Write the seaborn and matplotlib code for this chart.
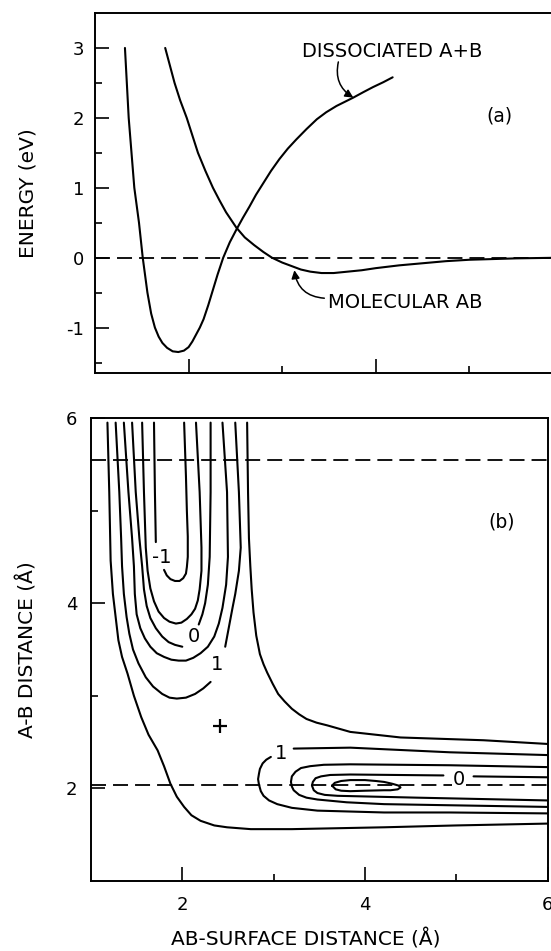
import matplotlib
matplotlib.use("Agg")
import matplotlib.pyplot as plt
import seaborn as sns

sns.set_theme(style="white")
plt.rcParams['font.family'] = ['DejaVu Sans']
plt.rcParams.update({"text.color": "black", "axes.labelcolor": "black",
                     "xtick.color": "black", "ytick.color": "black"})

# ---------------- Panel (a) data ----------------
dissoc_x = [1.32, 1.34, 1.36, 1.39, 1.42, 1.47, 1.51, 1.56, 1.60, 1.64, 1.68, 1.72,
            1.77, 1.83, 1.89, 1.95, 2.00, 2.04, 2.08, 2.12, 2.16, 2.21, 2.26, 2.31,
            2.37, 2.44, 2.51, 2.58, 2.65, 2.72, 2.80, 2.88, 2.97, 3.06, 3.15, 3.26,
            3.37, 3.47, 3.58, 3.67, 3.76, 3.87, 3.97, 4.08, 4.18]
dissoc_y = [3.0, 2.5, 2.0, 1.5, 1.0, 0.5, 0.0, -0.5, -0.8, -1.0, -1.13, -1.22,
            -1.29, -1.34, -1.35, -1.33, -1.28, -1.20, -1.10, -1.00, -0.88, -0.68, -0.46, -0.24,
            0.0, 0.22, 0.40, 0.57, 0.73, 0.90, 1.07, 1.24, 1.41, 1.56, 1.69, 1.84,
            1.98, 2.08, 2.17, 2.23, 2.29, 2.37, 2.44, 2.51, 2.58]
mol_x = [1.75, 1.80, 1.85, 1.91, 1.98, 2.04, 2.10, 2.18, 2.26, 2.33, 2.40, 2.51,
         2.60, 2.70, 2.80, 2.89, 3.00, 3.10, 3.20, 3.30, 3.42, 3.55, 3.70, 3.85,
         4.00, 4.25, 4.50, 4.75, 5.00, 5.50, 6.00]
mol_y = [3.0, 2.75, 2.5, 2.25, 2.0, 1.75, 1.5, 1.24, 1.0, 0.82, 0.65, 0.43,
         0.29, 0.18, 0.08, 0.0, -0.07, -0.12, -0.17, -0.20, -0.22, -0.22, -0.20, -0.18,
         -0.15, -0.11, -0.08, -0.05, -0.03, -0.01, 0.0]
energy_ref = 0.0

# ---------------- Panel (b) contour traces ----------------
c_m1_a_x = [1.69, 1.70, 1.71]
c_m1_a_y = [5.95, 5.20, 4.66]
c_m1_b_x = [1.80, 1.83, 1.87, 1.92, 1.97, 2.01, 2.04, 2.05, 2.06, 2.06, 2.05, 2.04, 2.02]
c_m1_b_y = [4.36, 4.30, 4.26, 4.24, 4.24, 4.27, 4.32, 4.39, 4.50, 4.72, 5.00, 5.37, 5.95]

c_m05_x = [1.56, 1.58, 1.60, 1.62, 1.65, 1.69, 1.74, 1.80, 1.86, 1.93, 1.99, 2.05,
           2.10, 2.14, 2.17, 2.19, 2.21, 2.21, 2.19, 2.15]
c_m05_y = [5.95, 5.20, 4.60, 4.35, 4.16, 4.02, 3.91, 3.84, 3.80, 3.78, 3.79, 3.83,
           3.88, 3.94, 4.03, 4.15, 4.35, 4.60, 5.20, 5.95]

c_0_a_x = [1.45, 1.49, 1.53, 1.56, 1.58, 1.61, 1.65, 1.71, 1.78, 1.85, 1.92, 2.00]
c_0_a_y = [5.95, 5.20, 4.70, 4.40, 4.15, 3.97, 3.84, 3.73, 3.64, 3.58, 3.55, 3.53]
c_0_b_x = [2.18, 2.22, 2.25, 2.28, 2.30, 2.31, 2.31]
c_0_b_y = [3.77, 3.88, 4.00, 4.20, 4.50, 5.20, 5.95]

c_05_x = [1.36, 1.41, 1.45, 1.47, 1.48, 1.50, 1.54, 1.59, 1.65, 1.72, 1.80, 1.88,
          1.96, 2.04, 2.12, 2.20, 2.28, 2.35, 2.40, 2.44, 2.48, 2.50, 2.49, 2.44]
c_05_y = [5.95, 5.20, 4.70, 4.40, 4.10, 3.88, 3.73, 3.62, 3.53, 3.46, 3.42, 3.39,
          3.38, 3.38, 3.41, 3.46, 3.53, 3.64, 3.78, 3.95, 4.20, 4.50, 5.20, 5.95]

c_1_a_x = [1.27, 1.31, 1.33, 1.34, 1.36, 1.39, 1.42, 1.46, 1.52, 1.60, 1.68, 1.78,
           1.86, 1.94, 2.04, 2.14, 2.23, 2.31]
c_1_a_y = [5.95, 5.20, 4.70, 4.40, 4.10, 3.85, 3.67, 3.50, 3.35, 3.20, 3.10, 3.02,
           2.98, 2.97, 2.98, 3.02, 3.08, 3.15]
c_1_b_x = [2.47, 2.51, 2.55, 2.58, 2.62, 2.64, 2.62, 2.58]
c_1_b_y = [3.53, 3.74, 3.95, 4.10, 4.35, 4.60, 5.20, 5.95]

c_outer_x = [1.18, 1.20, 1.215, 1.24, 1.27, 1.30, 1.34, 1.40, 1.47, 1.55, 1.63, 1.73,
             1.80, 1.87, 1.94, 2.02, 2.10, 2.20, 2.35, 2.49, 2.75, 3.20, 4.21, 5.00, 6.00]
c_outer_y = [5.95, 5.20, 4.46, 4.10, 3.85, 3.60, 3.42, 3.24, 3.00, 2.77, 2.58, 2.41,
             2.24, 2.05, 1.91, 1.80, 1.71, 1.65, 1.60, 1.58, 1.56, 1.56, 1.58, 1.60, 1.62]

c_right_x = [2.71, 2.72, 2.73, 2.745, 2.76, 2.78, 2.81, 2.85, 2.89, 2.93, 2.99, 3.05,
             3.12, 3.20, 3.28, 3.36, 3.47, 3.59, 3.84, 4.39, 5.30, 6.00]
c_right_y = [5.95, 5.20, 4.70, 4.40, 4.15, 3.90, 3.65, 3.45, 3.34, 3.25, 3.13, 3.02,
             2.94, 2.86, 2.80, 2.75, 2.71, 2.68, 2.61, 2.55, 2.52, 2.48]

w_1_up_x = [3.22, 3.84, 4.93, 6.00]
w_1_up_y = [2.43, 2.44, 2.39, 2.36]
w_1_lo_x = [2.97, 2.92, 2.88, 2.85, 2.84, 2.83, 2.84, 2.86, 2.89, 2.95, 3.04, 3.20,
            3.48, 4.21, 4.93, 6.00]
w_1_lo_y = [2.34, 2.31, 2.27, 2.21, 2.16, 2.10, 2.04, 1.97, 1.92, 1.87, 1.83, 1.79,
            1.76, 1.74, 1.74, 1.73]

w_05_x = [6.00, 4.93, 3.84, 3.55, 3.40, 3.30, 3.24, 3.20, 3.19, 3.20, 3.22, 3.28,
          3.36, 3.48, 3.80, 4.21, 6.00]
w_05_y = [2.23, 2.25, 2.26, 2.255, 2.24, 2.22, 2.18, 2.13, 2.07, 2.02, 1.98, 1.93,
          1.90, 1.88, 1.85, 1.83, 1.80]

w_0_a_x = [4.86, 3.84, 3.62, 3.52, 3.46, 3.43, 3.42, 3.44, 3.48, 3.56, 3.70, 4.57, 6.00]
w_0_a_y = [2.14, 2.15, 2.145, 2.13, 2.11, 2.07, 2.03, 1.98, 1.95, 1.93, 1.92, 1.90, 1.87]
w_0_b_x = [5.19, 6.00]
w_0_b_y = [2.13, 2.12]

w_m05_x = [3.64, 3.67, 3.74, 3.84, 4.00, 4.12, 4.21, 4.30, 4.37, 4.39, 4.36, 4.28,
           4.21, 4.00, 3.84, 3.74, 3.68, 3.64]
w_m05_y = [2.03, 2.06, 2.08, 2.09, 2.09, 2.08, 2.07, 2.05, 2.03, 2.01, 1.99, 1.98,
           1.98, 1.975, 1.97, 1.975, 1.99, 2.03]

saddle_x = [2.41]
saddle_y = [2.67]
bond_ref_y = [5.55, 2.04]

contour_labels = ["-1", "0", "1", "1", "0"]
contour_label_x = [1.78, 2.13, 2.38, 3.08, 5.03]
contour_label_y = [4.49, 3.64, 3.34, 2.38, 2.10]

# ---------------- figure ----------------
W, H = 551, 951
fig = plt.figure(figsize=(W / 100, H / 100), dpi=100)
ax1 = fig.add_axes([95 / W, 1 - 373 / H, 468 / W, 360 / H])
ax2 = fig.add_axes([91 / W, 1 - 881 / H, 456.5 / W, 463 / H])

LW = 1.5
DASH = (8.3, 3.9)
kw = dict(color="black", sort=False, estimator=None, legend=False, linewidth=LW)

# panel (a)
sns.lineplot(x=dissoc_x, y=dissoc_y, ax=ax1, **kw)
sns.lineplot(x=mol_x, y=mol_y, ax=ax1, **kw)
ax1.axhline(energy_ref, color="black", lw=1.3, dashes=DASH)
ax1.set_xlim(1.0, 6.0)
ax1.set_ylim(-1.65, 3.5)

ax1.annotate("", xy=(3.76, 2.29), xytext=(3.60, 2.80),
             arrowprops=dict(arrowstyle="-|>", connectionstyle="arc3,rad=0.35",
                             color="black", lw=1.1, mutation_scale=12,
                             shrinkA=0, shrinkB=0))
ax1.text(3.21, 2.95, "DISSOCIATED A+B", fontsize=14, ha="left", va="center")
ax1.annotate("", xy=(3.13, -0.18), xytext=(3.45, -0.58),
             arrowprops=dict(arrowstyle="-|>", connectionstyle="arc3,rad=-0.4",
                             color="black", lw=1.1, mutation_scale=12,
                             shrinkA=0, shrinkB=0))
ax1.text(3.49, -0.64, "MOLECULAR AB", fontsize=14, ha="left", va="center")
ax1.text(5.32, 2.02, "(a)", fontsize=13.5, ha="center", va="center")

ax1.set_xticks([2, 4, 6])
ax1.set_xticks([3, 5], minor=True)
ax1.set_xticklabels([])
ax1.set_yticks([-1, 0, 1, 2, 3])
ax1.set_yticklabels(["-1", "0", "1", "2", "3"])
ax1.set_yticks([-1.5, -0.5, 0.5, 1.5, 2.5], minor=True)
ax1.set_ylabel("ENERGY (eV)", fontsize=14.5)
ax1.yaxis.set_label_coords((38 - 95) / 468, 0.5)

# panel (b)
segments = [
    (c_m1_a_x, c_m1_a_y), (c_m1_b_x, c_m1_b_y), (c_m05_x, c_m05_y),
    (c_0_a_x, c_0_a_y), (c_0_b_x, c_0_b_y), (c_05_x, c_05_y),
    (c_1_a_x, c_1_a_y), (c_1_b_x, c_1_b_y), (c_outer_x, c_outer_y),
    (c_right_x, c_right_y), (w_1_up_x, w_1_up_y), (w_1_lo_x, w_1_lo_y),
    (w_05_x, w_05_y), (w_0_a_x, w_0_a_y), (w_0_b_x, w_0_b_y), (w_m05_x, w_m05_y),
]
for sx, sy in segments:
    sns.lineplot(x=sx, y=sy, ax=ax2, **kw)
for yv in bond_ref_y:
    ax2.axhline(yv, color="black", lw=1.3, dashes=DASH, zorder=1)
sns.scatterplot(x=saddle_x, y=saddle_y, ax=ax2, marker="+", s=110,
                color="black", linewidth=1.6, legend=False)
for lab, lx, ly in zip(contour_labels, contour_label_x, contour_label_y):
    ax2.text(lx, ly, lab, fontsize=14, ha="center", va="center", zorder=5,
             bbox=dict(facecolor="white", edgecolor="none", pad=0.5))
ax2.text(5.50, 4.88, "(b)", fontsize=13.5, ha="center", va="center")

ax2.set_xlim(1.0, 6.0)
ax2.set_ylim(1.0, 6.0)
ax2.set_xticks([2, 4, 6])
ax2.set_xticklabels(["2", "4", "6"])
ax2.set_xticks([3, 5], minor=True)
ax2.set_yticks([2, 4, 6])
ax2.set_yticklabels(["2", "4", "6"])
ax2.set_yticks([3, 5], minor=True)
ax2.set_xlabel("AB-SURFACE DISTANCE (Å)", fontsize=14.5)
ax2.set_ylabel("A-B DISTANCE (Å)", fontsize=14.5)
ax2.yaxis.set_label_coords((38 - 91) / 456.5, 0.5)
ax2.xaxis.set_label_coords(0.47, (881 - 929) / 463)

for ax, ypad in ((ax1, 8), (ax2, 10)):
    for s in ax.spines.values():
        s.set_color("black")
        s.set_linewidth(1.4)
    ax.tick_params(axis="both", which="both", direction="in", color="black",
                   left=True, bottom=True, top=False, right=False)
    ax.tick_params(axis="both", which="major", length=10, width=1.2, labelsize=13)
    ax.tick_params(axis="both", which="minor", length=5, width=1.2)
    ax.tick_params(axis="y", which="major", pad=ypad)
ax2.tick_params(axis="x", which="major", pad=11)

fig.savefig("out.png", dpi=100, facecolor="white")
